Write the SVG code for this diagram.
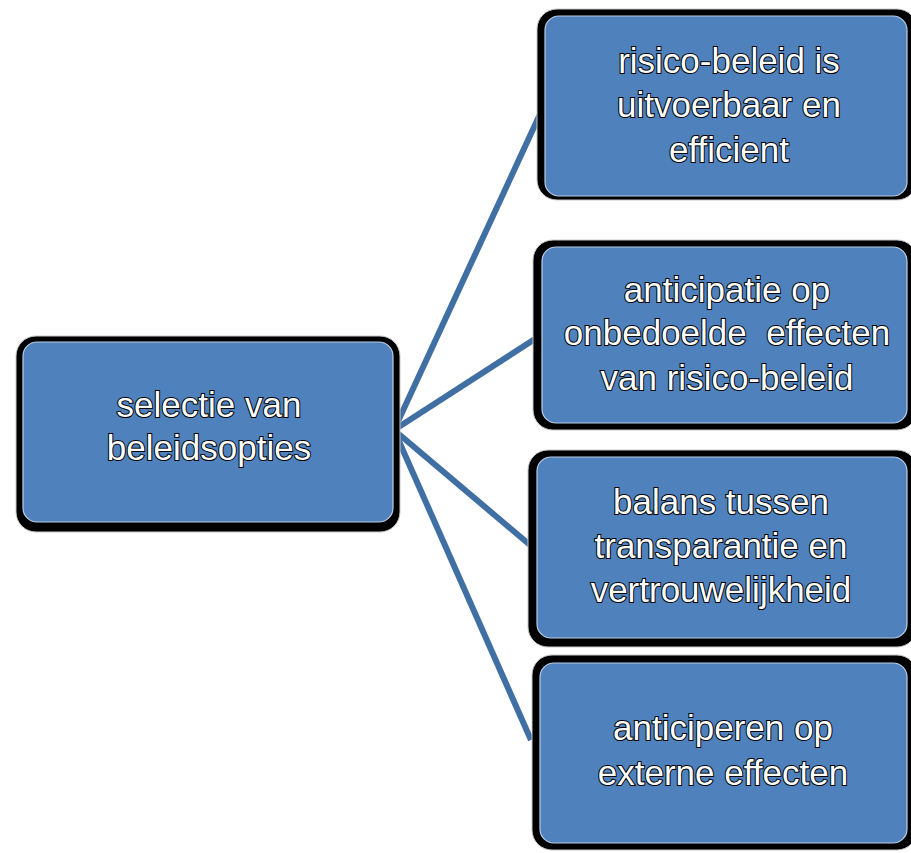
<svg xmlns="http://www.w3.org/2000/svg" width="911" height="853" viewBox="0 0 911 853">
<style>
.frame{fill:#000;stroke:#c8c8c8;stroke-width:1}
.body{fill:#4f81bd;stroke:#b9cde6;stroke-width:1.2}
.lbl{font-family:"Liberation Sans",Arial,sans-serif;font-size:35px;fill:#fff;stroke:#000;stroke-width:2;paint-order:stroke;text-anchor:middle}
.conn{stroke:#3f6fa3;stroke-width:6;fill:none;stroke-linecap:butt}
</style>
<rect width="911" height="853" fill="#fff"/>
<g id="connectors">
<line class="conn" x1="394" y1="430" x2="541" y2="112"/>
<line class="conn" x1="394" y1="430" x2="538" y2="337"/>
<line class="conn" x1="394" y1="430" x2="530" y2="545"/>
<line class="conn" x1="394" y1="430" x2="531" y2="740"/>
</g>
<g id="node-selectie">
<rect class="frame" x="16" y="336" width="384" height="196" rx="20"/>
<rect class="body" x="23" y="342" width="370" height="180" rx="14"/>
<text class="lbl" x="209" y="417">selectie van</text>
<text class="lbl" x="209" y="460">beleidsopties</text>
</g>
<g id="node-uitvoerbaar">
<rect class="frame" x="537" y="9" width="380" height="191" rx="20"/>
<rect class="body" x="545" y="16" width="362" height="180" rx="14"/>
<text class="lbl" x="729" y="73">risico-beleid is</text>
<text class="lbl" x="729" y="117">uitvoerbaar en</text>
<text class="lbl" x="729" y="162">efficient</text>
</g>
<g id="node-anticipatie">
<rect class="frame" x="533" y="240" width="384" height="190" rx="20"/>
<rect class="body" x="542" y="247" width="365" height="176" rx="14"/>
<text class="lbl" x="727" y="302">anticipatie op</text>
<text class="lbl" x="727" y="345" xml:space="preserve">onbedoelde  effecten</text>
<text class="lbl" x="727" y="390">van risico-beleid</text>
</g>
<g id="node-balans">
<rect class="frame" x="528" y="450" width="389" height="197" rx="20"/>
<rect class="body" x="537" y="457" width="370" height="181" rx="14"/>
<text class="lbl" x="721" y="514">balans tussen</text>
<text class="lbl" x="721" y="558">transparantie en</text>
<text class="lbl" x="721" y="602">vertrouwelijkheid</text>
</g>
<g id="node-extern">
<rect class="frame" x="532" y="655" width="385" height="195" rx="20"/>
<rect class="body" x="540" y="663" width="367" height="180" rx="14"/>
<text class="lbl" x="723" y="740">anticiperen op</text>
<text class="lbl" x="723" y="785">externe effecten</text>
</g>
</svg>
